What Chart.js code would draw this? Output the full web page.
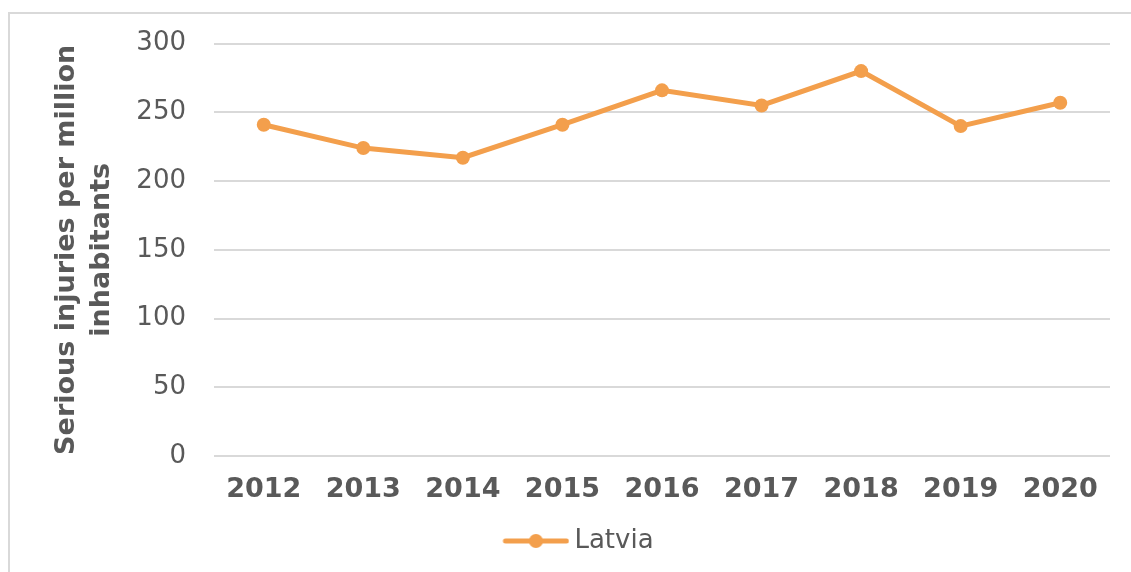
<!DOCTYPE html>
<html>
<head>
    <title>Serious injuries - Latvia</title>
    <script src="https://cdn.jsdelivr.net/npm/chart.js"></script>
    <style>
        body { margin: 0; background: #fff; }
        #frame { position: absolute; left: 8px; top: 12px; width: 1140px; height: 580px; border: 2px solid #d9d9d9; }
        #wrap { position: absolute; left: 0; top: 0; width: 1131px; height: 572px; }
    </style>
</head>
<body>
    <div id="frame"></div>
    <div id="wrap"><canvas id="chart" width="1131" height="572"></canvas></div>

    <script>
        const years = ['2012', '2013', '2014', '2015', '2016', '2017', '2018', '2019', '2020'];
        const latvia = [241, 224, 217, 241, 266, 255, 280, 240, 257];
        const yTicks = [0, 50, 100, 150, 200, 250, 300];

        const orange = '#F39F4C';
        const grey = '#595959';

        // legend marker: line with a dot, transparent space on the left so the item sits where it should
        const marker = document.createElement('canvas');
        marker.width = 121;
        marker.height = 16;
        const m = marker.getContext('2d');
        m.strokeStyle = orange;
        m.lineWidth = 5;
        m.lineCap = 'round';
        m.beginPath();
        m.moveTo(57, 8);
        m.lineTo(118, 8);
        m.stroke();
        m.fillStyle = orange;
        m.beginPath();
        m.arc(87.5, 8, 7, 0, Math.PI * 2);
        m.fill();

        document.addEventListener('DOMContentLoaded', function() {
            const ctx = document.getElementById('chart').getContext('2d');

            new Chart(ctx, {
                type: 'line',
                data: {
                    labels: years,
                    datasets: [{
                        label: 'Latvia',
                        data: latvia,
                        borderColor: orange,
                        backgroundColor: orange,
                        borderWidth: 5,
                        pointRadius: 7,
                        pointHoverRadius: 7,
                        pointBackgroundColor: orange,
                        pointBorderWidth: 0,
                        pointStyle: 'circle',
                        tension: 0
                    }]
                },
                options: {
                    responsive: false,
                    animation: false,
                    layout: {
                        padding: { top: 42, right: 21, left: 0, bottom: 8 }
                    },
                    plugins: {
                        tooltip: { enabled: false },
                        legend: {
                            position: 'bottom',
                            labels: {
                                usePointStyle: true,
                                pointStyleWidth: 105,
                                color: grey,
                                font: { family: 'DejaVu Sans', size: 26 },
                                padding: 10,
                                generateLabels: function(chart) {
                                    return [{
                                        text: 'Latvia',
                                        pointStyle: marker,
                                        fillStyle: orange,
                                        strokeStyle: orange,
                                        lineWidth: 0,
                                        datasetIndex: 0,
                                        fontColor: grey
                                    }];
                                }
                            }
                        }
                    },
                    scales: {
                        x: {
                            offset: true,
                            grid: { display: false },
                            border: { display: false },
                            afterFit: function(axis) {
                                axis.height = 62;
                            },
                            ticks: {
                                color: grey,
                                padding: 10,
                                font: { family: 'DejaVu Sans', size: 27, weight: 'bold' },
                                maxRotation: 0
                            }
                        },
                        y: {
                            min: 0,
                            max: 300,
                            afterBuildTicks: function(axis) {
                                axis.ticks = yTicks.map(v => ({ value: v }));
                            },
                            afterFit: function(axis) {
                                axis.width = 214;
                            },
                            grid: { color: '#d9d9d9', lineWidth: 2, drawTicks: false },
                            border: { display: false },
                            ticks: {
                                color: grey,
                                padding: 28,
                                font: { family: 'DejaVu Sans', size: 26 }
                            },
                            title: {
                                display: true,
                                text: ['Serious injuries per million', 'inhabitants'],
                                color: grey,
                                font: { family: 'DejaVu Sans', size: 27, weight: 'bold', lineHeight: 1.3 },
                                padding: { top: 49, bottom: 0 }
                            }
                        }
                    }
                }
            });
        });
    </script>
</body>
</html>
